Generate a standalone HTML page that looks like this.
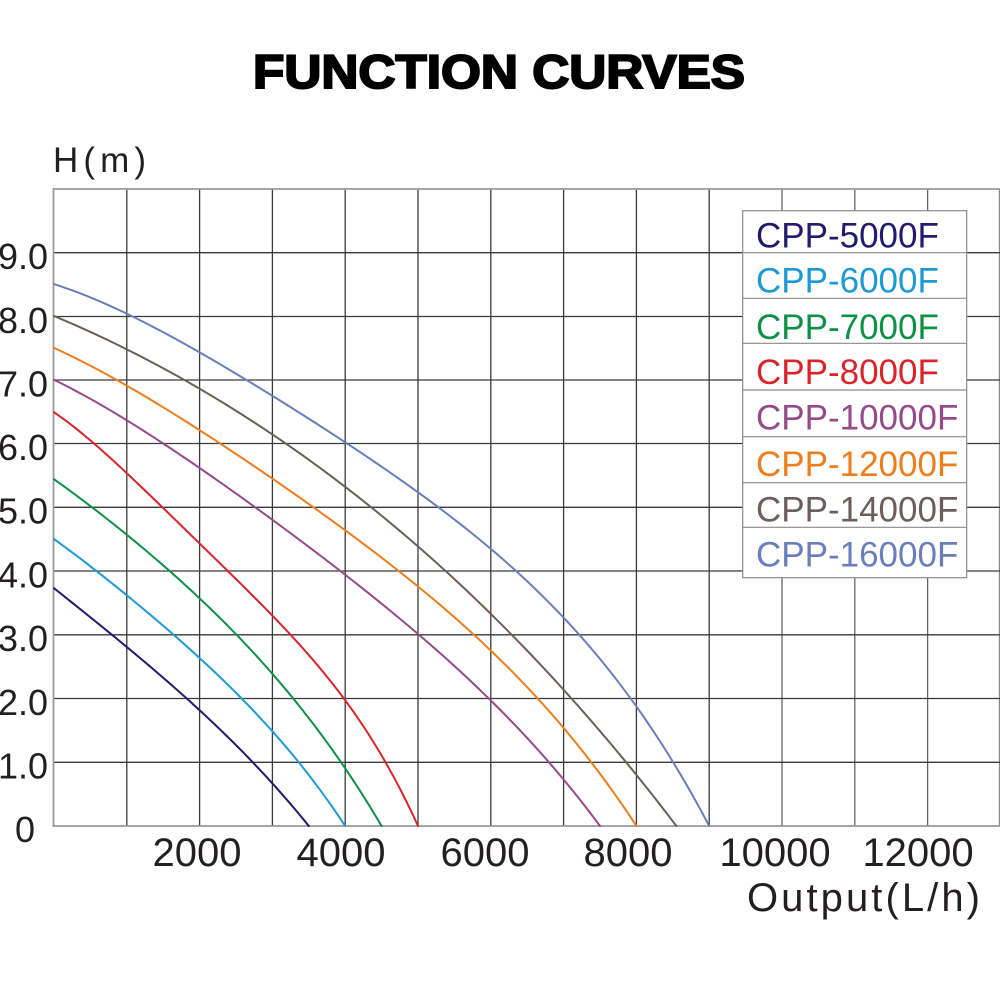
<!DOCTYPE html>
<html><head><meta charset="utf-8"><style>
html,body{margin:0;padding:0;background:#fff;}
svg{display:block;}
text{font-family:"Liberation Sans",Arial,sans-serif;}
</style></head><body>
<svg id="chart" width="1000" height="1001" viewBox="0 0 1000 1001" xmlns="http://www.w3.org/2000/svg">
<rect width="1000" height="1001" fill="#fff"/>
<text x="253" y="88" font-size="47" font-weight="bold" fill="#000" stroke="#000" stroke-width="2" textLength="492" lengthAdjust="spacingAndGlyphs">FUNCTION CURVES</text>
<text x="53" y="172" font-size="35" fill="#231f20" textLength="93" lengthAdjust="spacing">H(m)</text>
<g stroke="#3a3a3a" stroke-width="1.3" fill="none">
<line x1="126.8" y1="189" x2="126.8" y2="826"/>
<line x1="199.6" y1="189" x2="199.6" y2="826"/>
<line x1="272.4" y1="189" x2="272.4" y2="826"/>
<line x1="345.2" y1="189" x2="345.2" y2="826"/>
<line x1="418" y1="189" x2="418" y2="826"/>
<line x1="490.8" y1="189" x2="490.8" y2="826"/>
<line x1="563.6" y1="189" x2="563.6" y2="826"/>
<line x1="636.4" y1="189" x2="636.4" y2="826"/>
<line x1="709.2" y1="189" x2="709.2" y2="826"/>
<line x1="782" y1="189" x2="782" y2="826" stroke="#666"/>
<line x1="854.8" y1="189" x2="854.8" y2="826" stroke="#666"/>
<line x1="927.6" y1="189" x2="927.6" y2="826" stroke="#666"/>
<line x1="999.5" y1="189" x2="999.5" y2="826" stroke="#888"/>
<line x1="53" y1="252.7" x2="1000" y2="252.7"/>
<line x1="53" y1="316.5" x2="1000" y2="316.5"/>
<line x1="53" y1="380" x2="1000" y2="380"/>
<line x1="53" y1="443.5" x2="1000" y2="443.5"/>
<line x1="53" y1="507.3" x2="1000" y2="507.3"/>
<line x1="53" y1="571" x2="1000" y2="571"/>
<line x1="53" y1="634.8" x2="1000" y2="634.8"/>
<line x1="53" y1="698.5" x2="1000" y2="698.5"/>
<line x1="53" y1="762.3" x2="1000" y2="762.3"/>
</g>
<g stroke="#9a9a9a" stroke-width="1.8" fill="none">
<line x1="53.5" y1="188" x2="53.5" y2="827"/>
<line x1="53" y1="189" x2="1000" y2="189"/>
<line x1="53" y1="826" x2="1000" y2="826"/>
</g>
<g font-size="36" fill="#231f20" text-anchor="end">
<text x="48" y="269">9.0</text>
<text x="48" y="333">8.0</text>
<text x="48" y="396.5">7.0</text>
<text x="48" y="460">6.0</text>
<text x="48" y="523.5">5.0</text>
<text x="48" y="587.5">4.0</text>
<text x="48" y="651">3.0</text>
<text x="48" y="715">2.0</text>
<text x="48" y="778.5">1.0</text>
<text x="25" y="842" text-anchor="middle">0</text>
</g>
<g font-size="40" fill="#231f20" text-anchor="middle">
<text x="197" y="866">2000</text>
<text x="341" y="866">4000</text>
<text x="485" y="866">6000</text>
<text x="628" y="866">8000</text>
<text x="775" y="866">10000</text>
<text x="918" y="866">12000</text>
</g>
<text x="747" y="911" font-size="40" fill="#231f20" textLength="233" lengthAdjust="spacing">Output(L/h)</text>
<g id="curves" fill="none" stroke-width="2" stroke-linejoin="round" stroke-linecap="round">
<polyline stroke="#231a6e" points="54,588.2 111.7,634.75 126.8,646.9 186.7,698.5 199.6,710 252.3,762.25 272.4,783.3 290.6,803.7 308.8,826"/>
<polyline stroke="#1c9ad6" points="54,539.1 96.7,571 126.8,595.2 173.3,634.75 199.6,658.3 241.7,698.5 272.4,730.4 298.4,762.25 322.6,794.1 345.2,826"/>
<polyline stroke="#0e9046" points="54,479.2 91.6,507.25 126.8,533.4 168.3,571 199.6,599 236.7,634.75 272.4,671.7 292.7,698.5 317.5,730.4 340.6,762.25 363.4,795.4 381.6,826"/>
<polyline stroke="#d9252a" points="54,412.3 90.4,442.2 126.8,473.5 161.7,507.25 199.6,539.8 228.3,571 272.4,616.9 288.3,634.75 317.5,666.6 345.2,698.5 366.3,730.4 386,762.25 403.4,794.1 418,826"/>
<polyline stroke="#964a8a" points="54,379.75 126.8,421.8 165,443.5 199.6,468.4 255,507.25 272.4,520 344,571 418,636.7 487,698.5 523.6,733.6 551.6,762.25 563.6,779.5 581.8,801.8 600,826"/>
<polyline stroke="#ee7d1c" points="54,347.9 116.7,379.75 126.8,386.8 199.6,431.4 221.7,443.5 272.4,478.6 315,507.25 345.2,529.6 399.8,571 418,587.6 490.8,652 535,698.5 563.6,728.5 595,762.25 618.2,794.1 636.4,826"/>
<polyline stroke="#6b5e5b" points="54,316 126.8,348.5 183.4,379.75 236,411.6 286.6,443.5 345.2,486.8 370,507.25 418,545.5 480,603.5 513.2,634.75 569.2,698.5 626.2,762.25 654.6,795.4 676.4,826"/>
<polyline stroke="#6a7ebc" points="54,284.1 126.8,316 199.6,353.6 247.2,379.75 272.4,393.8 345.2,440.95 418,491.95 438.7,507.25 490.8,550 513.4,571 576.7,634.75 633.6,698.5 675,762.25 694.6,797.3 709.2,826"/>
</g>
<rect x="742.7" y="210.7" width="224" height="367" fill="#fff" stroke="#8a8a8a" stroke-width="1.2"/>
<g stroke="#8a8a8a" stroke-width="1.2">
<line x1="742.7" y1="252.7" x2="966.7" y2="252.7"/>
<line x1="742.7" y1="298.3" x2="966.7" y2="298.3"/>
<line x1="742.7" y1="343.3" x2="966.7" y2="343.3"/>
<line x1="742.7" y1="390" x2="966.7" y2="390"/>
<line x1="742.7" y1="436.7" x2="966.7" y2="436.7"/>
<line x1="742.7" y1="482.7" x2="966.7" y2="482.7"/>
<line x1="742.7" y1="527.3" x2="966.7" y2="527.3"/>
</g>
<g font-size="35">
<text x="756" y="247.3" fill="#231a6e">CPP-5000F</text>
<text x="756" y="292.5" fill="#1c9ad6">CPP-6000F</text>
<text x="756" y="339" fill="#0e9046">CPP-7000F</text>
<text x="756" y="384" fill="#d9252a">CPP-8000F</text>
<text x="756" y="429.5" fill="#964a8a">CPP-10000F</text>
<text x="756" y="476" fill="#ee7d1c">CPP-12000F</text>
<text x="756" y="521.7" fill="#6b5e5b">CPP-14000F</text>
<text x="756" y="566.7" fill="#6a7ebc">CPP-16000F</text>
</g>
</svg>
<script>
(function(){
  var NS="http://www.w3.org/2000/svg";
  var DEG=4;
  function solve(A,b){
    var n=b.length,i,j,k;
    for(i=0;i<n;i++){
      var mx=i;for(k=i+1;k<n;k++)if(Math.abs(A[k][i])>Math.abs(A[mx][i]))mx=k;
      var t=A[i];A[i]=A[mx];A[mx]=t;var tb=b[i];b[i]=b[mx];b[mx]=tb;
      for(k=i+1;k<n;k++){var f=A[k][i]/A[i][i];for(j=i;j<n;j++)A[k][j]-=f*A[i][j];b[k]-=f*b[i];}
    }
    var x=new Array(n);
    for(i=n-1;i>=0;i--){var s=b[i];for(j=i+1;j<n;j++)s-=A[i][j]*x[j];x[i]=s/A[i][i];}
    return x;
  }
  var pls=document.querySelectorAll('#curves polyline');
  for(var q=0;q<pls.length;q++){
    var pl=pls[q];
    var pts=pl.getAttribute('points').trim().split(/\s+/).map(function(s){var a=s.split(',');return [parseFloat(a[0]),parseFloat(a[1])];});
    var n=pts.length,x0=pts[0][0],x1=pts[n-1][0],L=x1-x0;
    var m=DEG+1,A=[],b=[],i,j,k;
    for(i=0;i<m;i++){A.push(new Array(m).fill(0));b.push(0);}
    for(k=0;k<n;k++){
      var u=(pts[k][0]-x0)/L,w=(k==0||k==n-1)?40:1,pw=[];
      for(i=0;i<m;i++)pw.push(Math.pow(u,i));
      for(i=0;i<m;i++){for(j=0;j<m;j++)A[i][j]+=w*pw[i]*pw[j];b[i]+=w*pw[i]*pts[k][1];}
    }
    var c=solve(A,b);
    var d='';
    var N=80;
    for(k=0;k<=N;k++){
      var uu=k/N,yy=0;for(i=0;i<m;i++)yy+=c[i]*Math.pow(uu,i);
      if(k==0)yy=pts[0][1];if(k==N)yy=pts[n-1][1];
      d+=(k==0?'M':' L')+(x0+uu*L).toFixed(2)+','+yy.toFixed(2);
    }
    var path=document.createElementNS(NS,'path');
    path.setAttribute('d',d);
    path.setAttribute('stroke',pl.getAttribute('stroke'));
    pl.parentNode.replaceChild(path,pl);
  }
})();
</script>
</body></html>
